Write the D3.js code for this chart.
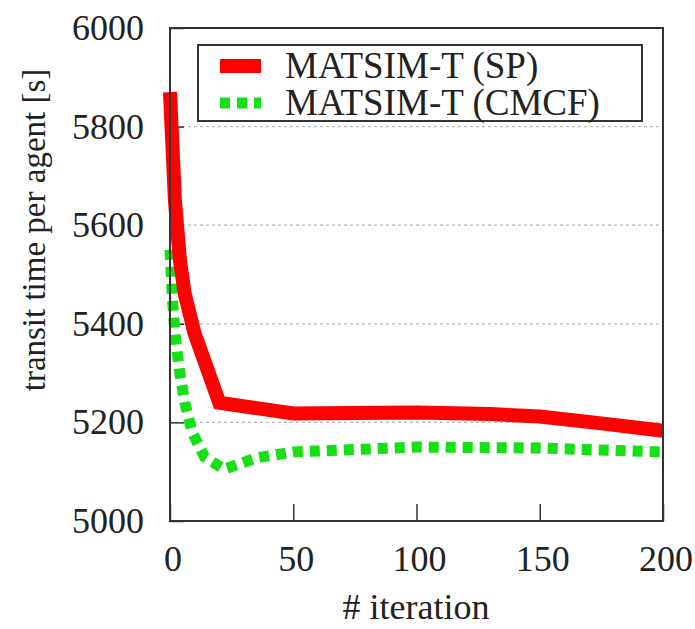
<!DOCTYPE html>
<html>
<head>
<meta charset="utf-8">
<script src="https://cdn.jsdelivr.net/npm/d3@7"></script>
<style>
  body { margin: 0; background: #fff; }
</style>
</head>
<body>
<div id="chart"></div>
<script>
// series
const spIter = [0, 1, 2, 4, 6, 10, 20, 50, 100, 130, 150, 175, 200];
const spTime = [5870, 5760, 5650, 5530, 5460, 5380, 5240, 5218, 5220, 5217, 5212, 5198, 5183];
const cmcfIter = [0, 1, 2, 4, 6, 9, 14, 22, 35, 50, 100, 150, 200];
const cmcfTime = [5550, 5450, 5380, 5300, 5240, 5180, 5130, 5105, 5128, 5140, 5150, 5148, 5140];
const xTicks = [0, 50, 100, 150, 200];
const yTicks = [5000, 5200, 5400, 5600, 5800, 6000];
const gridTicks = [5200, 5400, 5600, 5800];
const legendNames = ["MATSIM-T (SP)", "MATSIM-T (CMCF)"];

const w = 695, h = 629;
const plotLeft = 170, plotRight = 663, plotTop = 28, plotBottom = 521;
const serif = "'Liberation Serif', 'Times New Roman', Times, 'DejaVu Serif', serif";

const svg = d3.select("#chart").append("svg")
  .attr("width", w).attr("height", h)
  .attr("font-family", serif);

const x = d3.scaleLinear().domain([0, 200]).range([plotLeft, plotRight]);
const y = d3.scaleLinear().domain([5000, 6000]).range([plotBottom, plotTop]);

// grid (dotted grey)
svg.append("g").selectAll("line").data(gridTicks).enter().append("line")
  .attr("x1", plotLeft).attr("x2", plotRight)
  .attr("y1", d => y(d)).attr("y2", d => y(d))
  .attr("stroke", "#b8b8b8").attr("stroke-width", 1.2)
  .attr("stroke-dasharray", "3,3");

// inward ticks, gnuplot style
const xAxis = d3.axisBottom(x).tickValues(xTicks).tickSize(-17).tickFormat("");
const yAxis = d3.axisLeft(y).tickValues(yTicks).tickSize(-14).tickFormat("");
svg.append("g").attr("transform", `translate(0,${plotBottom})`).call(xAxis)
  .call(g => g.select(".domain").remove())
  .selectAll("line").attr("stroke", "#333").attr("stroke-width", 1.5);
svg.append("g").attr("transform", `translate(${plotLeft},0)`).call(yAxis)
  .call(g => g.select(".domain").remove())
  .selectAll("line").attr("stroke", "#333").attr("stroke-width", 1.5);

// tick labels
svg.append("g").selectAll("text").data(xTicks).enter().append("text")
  .attr("x", d => x(d) + 3).attr("y", 571)
  .attr("text-anchor", "middle").attr("font-size", 36)
  .attr("font-family", serif).attr("fill", "#222")
  .text(d => d);
svg.append("g").selectAll("text").data(yTicks).enter().append("text")
  .attr("x", 144).attr("y", d => y(d) + 12)
  .attr("text-anchor", "end").attr("font-size", 36)
  .attr("font-family", serif).attr("fill", "#222")
  .text(d => d);

// axis titles
svg.append("text").attr("x", 416).attr("y", 619)
  .attr("text-anchor", "middle").attr("font-size", 36)
  .attr("font-family", serif).attr("fill", "#222")
  .text("# iteration");
svg.append("text")
  .attr("transform", "translate(45,230) rotate(-90)")
  .attr("text-anchor", "middle").attr("font-size", 33)
  .attr("font-family", serif).attr("fill", "#222")
  .text("transit time per agent [s]");

// series
const line = d3.line().x(d => x(d[0])).y(d => y(d[1]));

svg.append("path")
  .datum(cmcfIter.map((d, i) => [d, cmcfTime[i]]))
  .attr("d", line).attr("fill", "none")
  .attr("stroke", "#14e014").attr("stroke-width", 11)
  .attr("stroke-dasharray", "10,7");

svg.append("path")
  .datum(spIter.map((d, i) => [d, spTime[i]]))
  .attr("d", line).attr("fill", "none")
  .attr("stroke", "#ff0000").attr("stroke-width", 14);

// frame
svg.append("rect").attr("x", plotLeft).attr("y", plotTop)
  .attr("width", plotRight - plotLeft).attr("height", plotBottom - plotTop)
  .attr("fill", "none").attr("stroke", "#333").attr("stroke-width", 2);

// legend
const lg = svg.append("g");
lg.append("rect").attr("x", 198).attr("y", 45).attr("width", 444).attr("height", 76)
  .attr("fill", "#fff").attr("stroke", "#333").attr("stroke-width", 2);
const styles = [
  { color: "#ff0000", width: 14, dash: null },
  { color: "#14e014", width: 11, dash: "10,7" }
];
legendNames.forEach((name, i) => {
  const cy = 66 + i * 37;
  lg.append("line").attr("x1", 220).attr("x2", 261).attr("y1", cy).attr("y2", cy)
    .attr("stroke", styles[i].color).attr("stroke-width", styles[i].width)
    .attr("stroke-dasharray", styles[i].dash);
  lg.append("text").attr("x", 285).attr("y", cy + 12)
    .attr("font-size", 37).attr("font-family", serif).attr("fill", "#222")
    .text(name);
});
</script>
</body>
</html>
